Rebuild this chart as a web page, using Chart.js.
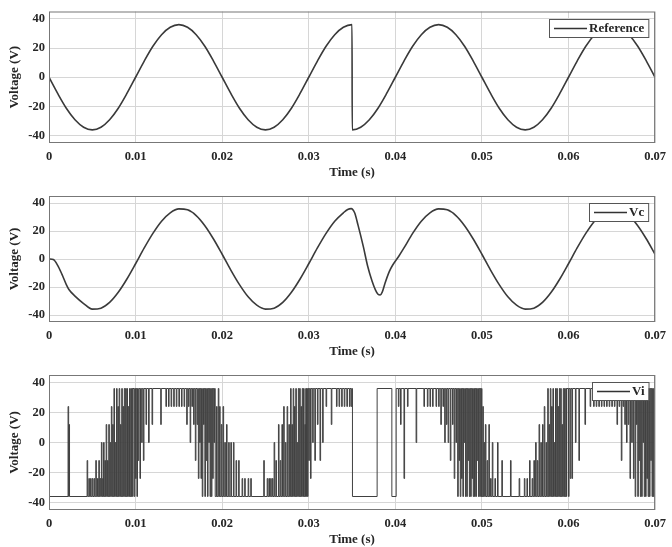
<!DOCTYPE html>
<html>
<head>
<meta charset="utf-8">
<script src="https://cdn.jsdelivr.net/npm/chart.js@4.4.0/dist/chart.umd.min.js"></script>
<style>
  body { margin: 0; background: #fff; }
  canvas { position: absolute; left: 0; }
</style>
</head>
<body>
<canvas id="refChart" width="672" height="180" style="top:0px"></canvas>
<canvas id="vcChart" width="672" height="179" style="top:180px"></canvas>
<canvas id="viChart" width="672" height="188" style="top:359px"></canvas>
<script>
// axis ticks (time in s, voltage in V)
const xTickValues = [0, 0.01, 0.02, 0.03, 0.04, 0.05, 0.06, 0.07];
const xTickLabels = ['0', '0.01', '0.02', '0.03', '0.04', '0.05', '0.06', '0.07'];
const yTickValues = [-40, -20, 0, 20, 40];

// Reference voltage (time in ms)
const refTime = [0, 1, 2, 3, 4, 5, 6, 7, 8, 9, 10, 11, 12, 13, 14, 15, 16, 17, 18, 19,
  20, 21, 22, 23, 24, 25, 26, 27, 28, 29, 30, 31, 32, 33, 34, 35, 35.02, 36, 37, 38, 39,
  40, 41, 42, 43, 44, 45, 46, 47, 48, 49, 50, 51, 52, 53, 54, 55, 56, 57, 58, 59,
  60, 61, 62, 63, 64, 65, 66, 67, 68, 69, 70];
const refVolt = [0, -11.1, -21.2, -29.1, -34.2, -36, -34.2, -29.1, -21.2, -11.1,
  0, 11.1, 21.2, 29.1, 34.2, 36, 34.2, 29.1, 21.2, 11.1,
  0, -11.1, -21.2, -29.1, -34.2, -36, -34.2, -29.1, -21.2, -11.1,
  0, 11.1, 21.2, 29.1, 34.2, 36, -36, -34.2, -29.1, -21.2, -11.1,
  0, 11.1, 21.2, 29.1, 34.2, 36, 34.2, 29.1, 21.2, 11.1,
  0, -11.1, -21.2, -29.1, -34.2, -36, -34.2, -29.1, -21.2, -11.1,
  0, 11.1, 21.2, 29.1, 34.2, 36, 34.2, 29.1, 21.2, 11.1, 0];

// Capacitor voltage Vc, middle plot (time in ms)
const vcTime = [0, 0.5, 1, 1.5, 2, 2.3, 3, 4, 5, 6, 7, 8, 9, 10, 11, 12, 13, 14, 15, 16, 17, 18, 19,
  20, 21, 22, 23, 24, 25, 26, 27, 28, 29, 30, 31, 32, 33, 34, 34.5, 34.9, 35.3, 35.7, 36.3, 36.8,
  37.3, 37.7, 38.0, 38.25, 38.5, 38.8, 39.3, 39.7, 40.4, 41, 42, 43, 44, 45, 46, 47, 48, 49,
  50, 51, 52, 53, 54, 55, 56, 57, 58, 59, 60, 61, 62, 63, 64, 65, 66, 67, 68, 69, 70];
const vcVolt = [0, -0.4, -4.5, -11, -18.3, -21.8, -26.5, -31.8, -35.8, -35.1, -31.0, -23.8, -14.3,
  -3.4, 7.9, 18.3, 27.0, 33.0, 35.8, 35.1, 31.0, 23.8, 14.3,
  3.4, -7.9, -18.3, -27.0, -33.0, -35.8, -35.1, -31.0, -23.8, -14.3,
  -3.4, 7.9, 18.3, 27.0, 33.0, 35.4, 36, 33, 24, 9, -5,
  -15.5, -22, -25.2, -25.7, -23.5, -17.5, -9, -4.3, 2.0, 7.9, 18.3, 27.0, 33.0, 35.8, 35.1, 31.0, 23.8, 14.3,
  3.4, -7.9, -18.3, -27.0, -33.0, -35.8, -35.1, -31.0, -23.8, -14.3,
  -3.4, 7.9, 18.3, 27.0, 33.0, 35.8, 35.1, 31.0, 23.8, 14.3, 3.4];

// Inverter voltage Vi: resting level changes [ms, V]
const viBase = [[0, 0], [0.05, -36], [9.7, 36], [19.2, -36], [29.75, 36], [35.05, -36],
  [37.9, 36], [39.6, -36], [40.1, 36], [50.0, -36], [59.8, 36]];
// Vi switching pulses away from the resting level [ms, V]
const viPulses = [
  [2.2, 24], [2.3, 12],
  [4.4, -12], [4.6, -24], [4.8, -24], [5.0, -24], [5.2, -24], [5.4, -12], [5.6, -24], [5.75, -12], [5.9, -24],
  [6.05, 0], [6.2, -24], [6.3, 0], [6.45, -12], [6.6, 12], [6.75, -12], [6.9, 12], [7.05, 0], [7.2, 24], [7.35, 12],
  [7.5, 36], [7.65, 0], [7.8, 36], [7.95, 24], [8.1, 36], [8.25, 12], [8.4, 36], [8.55, 24], [8.7, 36], [8.85, 36],
  [9.0, 36], [9.15, 24], [9.3, 36], [9.45, 36], [9.6, 36],

  [9.85, -36], [10.0, -24], [10.15, -36], [10.3, -12], [10.5, -24], [10.7, 0], [10.9, -12], [11.2, 12], [11.5, 0],
  [11.9, 12], [12.9, 12], [13.5, 24], [13.8, 24], [14.1, 24], [14.4, 24], [14.7, 24], [15.0, 24], [15.3, 24], [15.6, 24],
  [15.9, 12], [16.1, 24], [16.3, 0], [16.5, 24], [16.7, 12], [16.9, -12], [17.1, 12], [17.25, -24], [17.4, 0], [17.55, -24],
  [17.7, -36], [17.85, 12], [18.0, -36], [18.15, -12], [18.3, -36], [18.45, 0], [18.6, -36], [18.75, -36], [18.9, -24], [19.05, 0],

  [19.35, 24], [19.55, 36], [19.7, 24], [19.9, 12], [20.1, 24], [20.3, 0], [20.5, 12], [20.75, 0], [21.0, 0], [21.3, 0],
  [21.6, -12], [21.9, -12], [22.3, -24], [22.6, -24], [23.0, -24], [23.3, -24],
  [24.8, -12], [25.2, -24], [25.4, -24], [25.6, -24], [25.8, -24], [26.0, 0], [26.2, -12], [26.5, 12], [26.7, -12], [26.9, 12],
  [27.1, 24], [27.3, 0], [27.5, 24], [27.7, 12], [27.9, 36], [28.05, 12], [28.2, 36], [28.35, 24], [28.5, 36], [28.65, 0],
  [28.8, 36], [28.95, 36], [29.1, 24], [29.25, 36], [29.4, 36], [29.55, 12], [29.65, 36],

  [29.85, -36], [30.0, -12], [30.2, -24], [30.45, 0], [30.7, -12], [31.0, 12], [31.3, -12], [31.6, 0], [32.0, 24], [32.6, 12],
  [33.2, 24], [33.5, 24], [33.8, 24], [34.1, 24], [34.4, 24], [34.7, 24], [34.9, 24],

  [40.35, 24], [40.6, 12], [41.0, -24], [41.4, 24], [42.4, 0], [43.3, 24], [43.7, 24], [44.0, 24], [44.3, 24], [44.7, 24],
  [45.0, 24], [45.25, 12], [45.5, 24], [45.7, 0], [45.9, 12], [46.1, 0], [46.35, -12], [46.6, 12], [46.8, -24], [47.0, 0],
  [47.2, -36], [47.35, -12], [47.5, -36], [47.65, -24], [47.8, -36], [47.95, 0], [48.1, -36], [48.25, -36], [48.4, -12],
  [48.55, -36], [48.7, -36], [48.85, -24], [49.0, -36], [49.15, -36], [49.3, -36], [49.45, -12], [49.6, -36], [49.75, -36], [49.9, -36],

  [50.1, 24], [50.25, 0], [50.4, 12], [50.6, -12], [50.8, 12], [51.0, -24], [51.2, 0], [51.5, -24], [51.8, 0], [52.3, -12],
  [53.3, -12], [54.3, -24], [54.9, -24], [55.2, -24], [55.5, -12], [55.8, -24], [56.0, -12], [56.2, 0], [56.4, -12], [56.6, 12],
  [56.8, 0], [57.0, 12], [57.2, 24], [57.4, 0], [57.6, 36], [57.75, 12], [57.9, 36], [58.05, 24], [58.2, 36], [58.35, 0],
  [58.5, 36], [58.65, 36], [58.8, 24], [58.95, 36], [59.1, 36], [59.25, 12], [59.4, 36], [59.55, 36], [59.7, 36],

  [60.0, -36], [60.2, -24], [60.4, -24], [60.8, 0], [61.2, -12], [61.9, 12], [62.5, 24], [62.9, 24], [63.2, 24], [63.5, 24],
  [63.8, 24], [64.1, 24], [64.4, 24], [64.7, 24], [65.0, 24], [65.3, 24], [65.6, 12], [65.85, 24], [66.1, -12], [66.3, 24],
  [66.5, 12], [66.7, 0], [66.9, 12], [67.1, -24], [67.3, 0], [67.5, -24], [67.7, -36], [67.85, 12], [68.0, -36], [68.15, -12],
  [68.3, -36], [68.45, -36], [68.6, 0], [68.75, -36], [68.9, -36], [69.05, -24], [69.2, -36], [69.35, -36], [69.5, -12],
  [69.65, -36], [69.8, -36], [69.95, -36]
];
const PULSE_W = 0.07; // ms

const FONT = "'Liberation Serif', 'Times New Roman', serif";
const TEXT = '#262626';

function toPoints(times, volts) {
  return times.map((t, i) => ({ x: t / 1000, y: volts[i] }));
}

// turn the level changes and pulses into a stepped point list
function buildVi() {
  const events = [];
  viBase.forEach(([t, v]) => events.push({ t, base: v }));
  viPulses.forEach(([t, v]) => events.push({ t, pulse: v }));
  events.sort((a, b) => a.t - b.t);
  let base = 0;
  const pts = [];
  events.forEach(e => {
    if (e.base !== undefined) {
      base = e.base;
      pts.push({ x: e.t / 1000, y: base });
    } else {
      pts.push({ x: e.t / 1000, y: e.pulse });
      pts.push({ x: (e.t + PULSE_W) / 1000, y: base });
    }
  });
  pts.push({ x: 0.07, y: base });
  return pts;
}

// frame round the plot area and the small legend box in the top right corner
const boxPlugin = {
  id: 'box',
  afterDatasetsDraw(chart) {
    const { ctx, chartArea: a } = chart;
    const ds = chart.data.datasets[0];
    ctx.save();
    ctx.strokeStyle = '#777';
    ctx.lineWidth = 1;
    ctx.strokeRect(a.left + 0.5, a.top + 0.5, a.width - 1, a.height - 1);

    ctx.font = 'bold 13px ' + FONT;
    const tw = ctx.measureText(ds.label).width;
    const w = 5 + 33 + 2 + tw + 4, h = 18;
    const x = Math.round(a.right - 7 - w), y = Math.round(a.top + 7);
    ctx.fillStyle = '#fff';
    ctx.fillRect(x, y, w, h);
    ctx.strokeStyle = '#555';
    ctx.strokeRect(x + 0.5, y + 0.5, w, h);
    ctx.strokeStyle = '#333';
    ctx.lineWidth = 1.5;
    ctx.beginPath();
    ctx.moveTo(x + 5, y + h / 2 + 0.5);
    ctx.lineTo(x + 38, y + h / 2 + 0.5);
    ctx.stroke();
    ctx.fillStyle = TEXT;
    ctx.textBaseline = 'middle';
    ctx.fillText(ds.label, x + 40, y + h / 2 + 1);
    ctx.restore();
  }
};

function makeChart(id, label, points, padTop, padRight, extra) {
  const tickFont = { family: FONT, weight: 'bold', size: 12.5 };
  const titleFont = { family: FONT, weight: 'bold', size: 13 };
  return new Chart(document.getElementById(id), {
    type: 'line',
    data: {
      datasets: [Object.assign({
        label: label,
        data: points,
        borderColor: '#3a3a3a',
        borderWidth: 1.6,
        pointRadius: 0,
        fill: false
      }, extra)]
    },
    options: {
      responsive: false,
      animation: false,
      events: [],
      layout: { padding: { top: padTop, right: padRight, left: 0, bottom: 0 } },
      plugins: { legend: { display: false }, tooltip: { enabled: false } },
      scales: {
        x: {
          type: 'linear',
          min: 0,
          max: 0.07,
          afterBuildTicks: s => { s.ticks = xTickValues.map(v => ({ value: v })); },
          afterFit: s => { s.height = 37; },
          grid: { color: '#d6d6d6', drawTicks: false },
          border: { display: false },
          ticks: {
            callback: (v, i) => xTickLabels[i],
            maxRotation: 0,
            autoSkip: false,
            padding: 6,
            color: TEXT,
            font: tickFont
          },
          title: { display: true, text: 'Time (s)', color: TEXT, font: titleFont, padding: { top: 0, bottom: 0 } }
        },
        y: {
          min: -45,
          max: 45,
          afterBuildTicks: s => { s.ticks = yTickValues.map(v => ({ value: v })); },
          afterFit: s => { s.width = 49; },
          grid: { color: '#d6d6d6', drawTicks: false },
          border: { display: false },
          ticks: { padding: 4, color: TEXT, font: tickFont },
          title: { display: true, text: 'Voltage (V)', color: TEXT, font: titleFont, padding: { top: 7, bottom: 0 } }
        }
      }
    },
    plugins: [boxPlugin]
  });
}

makeChart('refChart', 'Reference', toPoints(refTime, refVolt), 8, 12, { cubicInterpolationMode: 'monotone' });
makeChart('vcChart', 'Vc', toPoints(vcTime, vcVolt), 16, 12, { cubicInterpolationMode: 'monotone' });
makeChart('viChart', 'Vi', buildVi(), 16, 11, { stepped: true, borderWidth: 1, borderColor: '#404040' });
</script>
</body>
</html>
